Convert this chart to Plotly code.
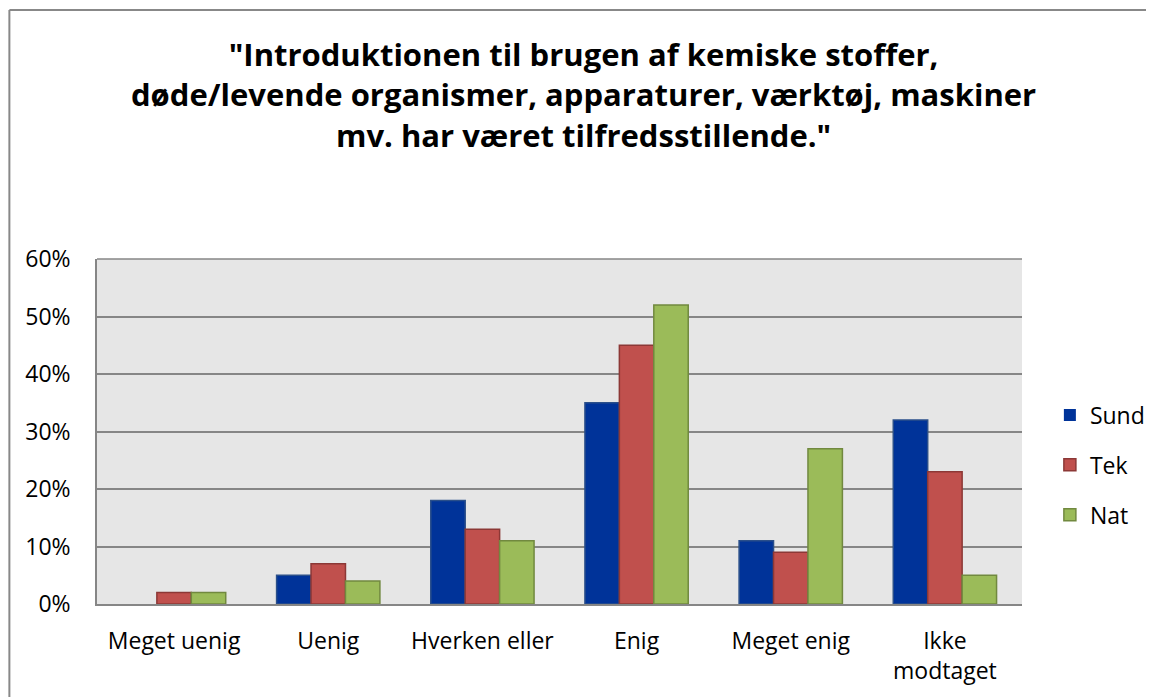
import plotly.graph_objects as go

categories = ["Meget uenig", "Uenig", "Hverken eller", "Enig", "Meget enig", "Ikke<br>modtaget"]
sund = [0, 5, 18, 35, 11, 32]
tek = [2, 7, 13, 45, 9, 23]
nat = [2, 4, 11, 52, 27, 5]
y_ticks = [0, 10, 20, 30, 40, 50, 60]
y_labels = [f"{v}%" for v in y_ticks]
title_text = ('"Introduktionen til brugen af kemiske stoffer,<br>'
              'døde/levende organismer, apparaturer, værktøj, maskiner<br>'
              'mv. har været tilfredsstillende."')

series = [
    ("Sund", sund, "#003399", "#2A4F8A"),
    ("Tek", tek, "#C0504D", "#8C3836"),
    ("Nat", nat, "#9BBB59", "#71893F"),
]

FONT = "Open Sans"
TICK = 23
fig = go.Figure()
for name, vals, fill, line in series:
    fig.add_trace(go.Bar(
        name=name, x=categories, y=vals, legendgroup=name,
        marker=dict(color=fill,
                    line=dict(color=line, width=[0 if v == 0 else 1.5 for v in vals])),
    ))

# page has an 8px body margin; figure coordinates are offset by 8
W, H = 1154, 697
L, R, T, B = 89, 1018, 251, 596
pw, ph = R - L, B - T

def px(xf):
    return (xf - L) / pw

def py(yf):
    return (B - yf) / ph

fig.update_layout(
    width=W, height=H,
    margin=dict(l=L, r=W - R, t=T, b=H - B),
    paper_bgcolor="white",
    plot_bgcolor="#E6E6E6",
    barmode="group", bargap=0.33, bargroupgap=0,
    font=dict(family=FONT, size=TICK, color="black"),
    legend=dict(
        x=px(1046), y=py(457), xanchor="left", yanchor="middle",
        font=dict(size=TICK), tracegroupgap=17, itemwidth=30,
        traceorder="grouped", bgcolor="rgba(0,0,0,0)",
    ),
    xaxis=dict(
        showgrid=False, showline=True, linecolor="#868686", linewidth=2,
        ticks="", tickfont=dict(size=TICK), ticklabelstandoff=15,
    ),
    yaxis=dict(
        range=[0, 60], tickvals=y_ticks, ticktext=y_labels,
        showgrid=True, gridcolor="#868686", gridwidth=1.5,
        showline=True, linecolor="#868686", linewidth=1.5,
        zeroline=False, ticks="", tickfont=dict(size=TICK), ticklabelstandoff=20,
    ),
    annotations=[dict(
        text=title_text, showarrow=False, xref="paper", yref="paper",
        x=px(578), y=py(87), xanchor="center", yanchor="middle",
        align="center", font=dict(family=FONT, size=31, color="black", weight="bold"),
    )],
    shapes=[
        dict(type="line", xref="paper", yref="paper", x0=0, x1=1, y0=1, y1=1,
             line=dict(color="#868686", width=1.5)),
        dict(type="line", xref="paper", yref="paper",
             x0=px(1), x1=px(1), y0=py(2), y1=py(740),
             line=dict(color="#888888", width=2)),
        dict(type="line", xref="paper", yref="paper",
             x0=px(1), x1=px(1200), y0=py(2), y1=py(2),
             line=dict(color="#888888", width=2)),
    ],
)

fig.write_html("out.html")
